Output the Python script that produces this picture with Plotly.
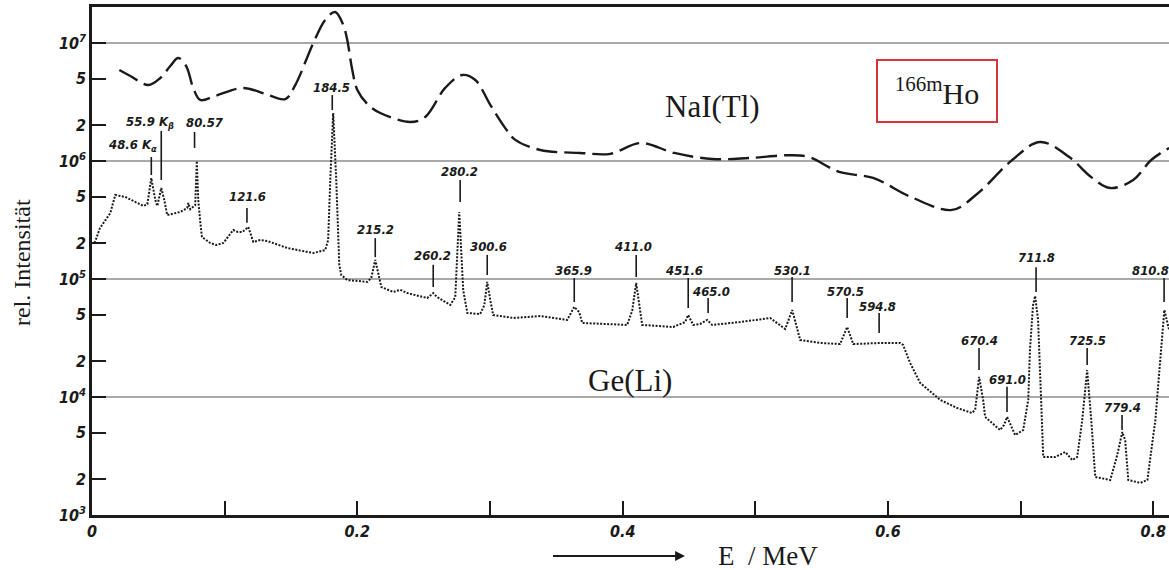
import numpy as np
import plotly.graph_objects as go

# ---------------- data ----------------
# Ge(Li) spectrum: energy (MeV) and relative intensity
ge_E = [0.002, 0.006, 0.0138, 0.0175, 0.025, 0.0387, 0.0417, 0.0447, 0.0477, 0.0492,
        0.0522, 0.0545, 0.0567, 0.0665, 0.0718, 0.0726, 0.0741, 0.0778, 0.079, 0.0801,
        0.0816, 0.0829, 0.0891, 0.0937, 0.099, 0.1065, 0.110, 0.1133, 0.1178, 0.1216,
        0.1268, 0.1321, 0.1472, 0.1668, 0.1758, 0.178, 0.1796, 0.1818, 0.1841, 0.1864,
        0.1879, 0.1924, 0.2075, 0.2105, 0.2135, 0.2166, 0.2181, 0.2271, 0.2323, 0.2376,
        0.2527, 0.2572, 0.2602, 0.27, 0.2738, 0.2768, 0.2798, 0.2829, 0.2926, 0.2957,
        0.2979, 0.3002, 0.3024, 0.3175, 0.3378, 0.3582, 0.3612, 0.3635, 0.3672, 0.3695,
        0.4034, 0.4072, 0.4102, 0.4132, 0.4147, 0.4381, 0.4471, 0.4494, 0.4532, 0.4585,
        0.4637, 0.4675, 0.4886, 0.5112, 0.5225, 0.5278, 0.5338, 0.5489, 0.5639, 0.5692,
        0.5738, 0.5941, 0.6092, 0.6114, 0.6167, 0.6242, 0.6393, 0.6521, 0.6634, 0.6657,
        0.6687, 0.6717, 0.6732, 0.6845, 0.6875, 0.6898, 0.6936, 0.6958, 0.7019, 0.7057,
        0.7070, 0.7093, 0.7109, 0.7131, 0.7154, 0.717, 0.7261, 0.7336, 0.7389, 0.7426,
        0.7464, 0.7501, 0.7532, 0.7562, 0.7675, 0.7728, 0.7766, 0.7788, 0.7811, 0.7902,
        0.7955, 0.8015, 0.8083, 0.8119]
ge_I = [2.02e5, 2.70e5, 3.62e5, 5.15e5, 4.96e5, 4.16e5, 4.3e5, 7.18e5, 4.67e5, 4.16e5,
        5.9e5, 4.67e5, 3.48e5, 3.7e5, 4.0e5, 4.4e5, 3.9e5, 4.24e5, 1.0e6, 4.67e5,
        3.04e5, 2.27e5, 2.02e5, 1.94e5, 2.02e5, 2.6e5, 2.5e5, 2.5e5, 2.76e5, 2.06e5,
        2.14e5, 2.1e5, 1.83e5, 1.66e5, 1.76e5, 2.14e5, 6.9e5, 2.55e6, 6.9e5, 1.32e5,
        1.08e5, 9.8e4, 9.45e4, 1.02e5, 1.45e5, 9.8e4, 8.55e4, 7.76e4, 8.1e4, 7.6e4,
        6.9e4, 7.6e4, 7.03e4, 6.03e4, 7.0e4, 3.7e5, 8.07e4, 5.15e4, 5.05e4, 6.0e4,
        9.45e4, 6.64e4, 4.95e4, 4.67e4, 4.85e4, 4.5e4, 5.25e4, 5.8e4, 5.25e4, 4.24e4,
        4.08e4, 5.4e4, 9.25e4, 5.4e4, 4.08e4, 3.92e4, 4.32e4, 4.95e4, 4.08e4, 4.16e4,
        4.5e4, 4.08e4, 4.32e4, 4.67e4, 3.77e4, 5.46e4, 3.04e4, 2.87e4, 2.81e4, 3.92e4,
        2.81e4, 2.87e4, 2.87e4, 2.76e4, 1.94e4, 1.32e4, 9.45e3, 8.07e3, 7.32e3, 7.8e3,
        1.48e4, 9.45e3, 6.78e3, 5.25e3, 5.8e3, 6.78e3, 5.4e3, 4.76e3, 5.25e3, 9.45e3,
        2.5e4, 6.0e4, 7.18e4, 4.5e4, 9.45e3, 3.1e3, 3.1e3, 3.42e3, 2.92e3, 3.1e3,
        6.38e3, 1.69e4, 6.38e3, 2.1e3, 1.98e3, 3.22e3, 5.05e3, 4.3e3, 1.98e3, 1.87e3,
        1.98e3, 6.38e3, 5.46e4, 3.7e4]

# NaI(Tl) spectrum
nai_E = [0.0206, 0.0289, 0.0424, 0.0515, 0.059, 0.065, 0.071, 0.0763, 0.0816, 0.0929,
         0.114, 0.1306, 0.1457, 0.1532, 0.1668, 0.1758, 0.1833, 0.1894, 0.1924, 0.1962,
         0.2, 0.2082, 0.2173, 0.2399, 0.2512, 0.2662, 0.2791, 0.2889, 0.3002, 0.3115,
         0.3191, 0.3379, 0.3681, 0.3907, 0.4133, 0.4389, 0.4675, 0.4954, 0.5263, 0.5406,
         0.5632, 0.5888, 0.6174, 0.6483, 0.668, 0.6936, 0.7147, 0.7366, 0.7532, 0.7675,
         0.7848, 0.7984, 0.8119]
nai_I = [5.9e6, 5.25e6, 4.4e6, 5.05e6, 6.38e6, 7.46e6, 6.38e6, 4.16e6, 3.29e6, 3.56e6,
         4.16e6, 3.7e6, 3.35e6, 4.4e6, 1.0e7, 1.57e7, 1.83e7, 1.42e7, 1.06e7, 5.9e6,
         4.0e6, 2.99e6, 2.55e6, 2.14e6, 2.36e6, 4.16e6, 5.36e6, 4.86e6, 2.99e6, 1.9e6,
         1.51e6, 1.24e6, 1.17e6, 1.15e6, 1.42e6, 1.17e6, 1.04e6, 1.06e6, 1.12e6, 1.08e6,
         8.07e5, 7.18e5, 4.95e5, 3.85e5, 5.36e5, 1.02e6, 1.45e6, 1.08e6, 7.3e5, 5.9e5,
         6.9e5, 1.02e6, 1.29e6]

# peak labels (keV), marker line (E, bottom, top) and label centre (E, I)
peak_text = ["48.6 K<sub>α</sub>", "55.9 K<sub>β</sub>", "80.57", "121.6", "184.5",
             "215.2", "260.2", "280.2", "300.6", "365.9", "411.0", "451.6", "465.0",
             "530.1", "570.5", "594.8", "670.4", "691.0", "711.8", "725.5", "779.4",
             "810.8"]
peak_E = [0.0447, 0.0522, 0.0773, 0.1168, 0.1811, 0.2135, 0.2572, 0.2775, 0.2979,
          0.3635, 0.4102, 0.4494, 0.4644, 0.5277, 0.5692, 0.5933, 0.6686, 0.6897,
          0.7116, 0.7501, 0.7764, 0.8081]
peak_lo = [7.6e5, 6.9e5, 1.29e6, 2.99e5, 2.7e6, 1.53e5, 8.55e4, 4.5e5, 1.08e5,
           6.38e4, 1.04e5, 5.68e4, 5.15e4, 6.38e4, 4.67e4, 3.48e4, 1.69e4, 7.46e3,
           7.76e4, 1.87e4, 5.25e3, 6.38e4]
peak_hi = [1.08e6, 1.8e6, 1.76e6, 4.0e5, 3.62e6, 2.22e5, 1.32e5, 6.9e5, 1.6e5,
           1.02e5, 1.6e5, 1.02e5, 6.9e4, 1.04e5, 6.9e4, 5.15e4, 2.6e4, 1.22e4,
           1.26e5, 2.6e4, 7.03e3, 1.02e5]
text_E = [0.0312, 0.0439, 0.0854, 0.117, 0.1803, 0.2135, 0.2564, 0.2768, 0.2986,
          0.3627, 0.4079, 0.4463, 0.4667, 0.5277, 0.5677, 0.5917, 0.6686, 0.6897,
          0.7116, 0.7501, 0.7764, 0.7975]
text_I = [1.34e6, 2.14e6, 2.14e6, 4.96e5, 4.16e6, 2.65e5, 1.57e5, 8.2e5, 1.9e5,
          1.19e5, 1.9e5, 1.19e5, 7.9e4, 1.19e5, 7.9e4, 5.9e4, 3.04e4, 1.42e4,
          1.53e5, 2.99e4, 8.2e3, 1.17e5]

x_tick_vals = [0, 0.1, 0.2, 0.3, 0.4, 0.5, 0.6, 0.7, 0.8]
x_tick_text = ["0", " ", "0.2", " ", "0.4", " ", "0.6", " ", "0.8"]
y_tick_vals = [1e3, 2e3, 5e3, 1e4, 2e4, 5e4, 1e5, 2e5, 5e5, 1e6, 2e6, 5e6, 1e7]
y_tick_text = ["10<sup>3</sup>", "2", "5", "10<sup>4</sup>", "2", "5",
               "10<sup>5</sup>", "2", "5", "10<sup>6</sup>", "2", "5", "10<sup>7</sup>"]
grid_vals = [1e4, 1e5, 1e6, 1e7]

# ---------------- figure ----------------
LBL_FONT = "Liberation Sans Narrow, DejaVu Sans Condensed, Arial Narrow, sans-serif"
SERIF = "Liberation Serif, Times New Roman, serif"
INK = "#1a1a1a"

fig = go.Figure()

fig.add_trace(go.Scatter(x=nai_E, y=nai_I, mode="lines", line_shape="spline",
                         line=dict(color=INK, width=2.4, dash="21px,7px"),
                         hoverinfo="skip", showlegend=False))
fig.add_trace(go.Scatter(x=ge_E, y=ge_I, mode="lines",
                         line=dict(color=INK, width=2.0, dash="2px,1.5px"),
                         hoverinfo="skip", showlegend=False))

# peak marker lines
lx, ly = [], []
for e, lo, hi in zip(peak_E, peak_lo, peak_hi):
    lx += [e, e, None]
    ly += [lo, hi, None]
fig.add_trace(go.Scatter(x=lx, y=ly, mode="lines", line=dict(color=INK, width=1.6),
                         hoverinfo="skip", showlegend=False))

annotations = []
for t, e, i in zip(peak_text, text_E, text_I):
    annotations.append(dict(x=e, y=np.log10(i), xref="x", yref="y", text=t,
                            showarrow=False, xanchor="center", yanchor="middle",
                            font=dict(family=LBL_FONT, size=13, color=INK,
                                      weight="bold", style="italic")))

def paper_text(x, y, text, **kw):
    d = dict(x=x, y=y, xref="paper", yref="paper", text=text, showarrow=False,
             xanchor="center", yanchor="middle")
    d.update(kw)
    return d

annotations += [
    paper_text(0.5757, 0.8051, "NaI(Tl)", font=dict(family=SERIF, size=31, color=INK)),
    paper_text(0.4995, 0.2657, "Ge(Li)", font=dict(family=SERIF, size=31, color=INK)),
    paper_text(0.7846, 0.8346, "<sup>166m</sup>Ho",
               font=dict(family=SERIF, size=30, color=INK),
               bordercolor="#d8343c", borderwidth=2, borderpad=2, width=114, height=56,
               bgcolor="white"),
    paper_text(-0.065, 0.498, "rel. Intensität", textangle=-90,
               font=dict(family=SERIF, size=24, color=INK)),
    paper_text(0.6277, -0.0807, "E  / MeV", font=dict(family=SERIF, size=27, color=INK)),
    dict(x=0.5506, y=-0.0807, xref="paper", yref="paper", text=" ", showarrow=True,
         ax=-135, ay=0, arrowhead=2, arrowsize=1.1, arrowwidth=1.8, arrowcolor=INK),
]

shapes = [dict(type="line", xref="paper", x0=0, x1=1, yref="y", y0=v, y1=v,
               line=dict(color="#8c8c8c", width=1.5), layer="below") for v in grid_vals]

fig.update_layout(
    width=1169, height=570,
    margin=dict(l=92, r=0, t=7, b=55, autoexpand=False),
    paper_bgcolor="white", plot_bgcolor="white",
    annotations=annotations, shapes=shapes,
    xaxis=dict(range=[0, 0.8118], showline=True, linecolor=INK, linewidth=2.5,
               mirror=True, ticks="inside", ticklen=14, tickwidth=2, tickcolor=INK,
               tickvals=x_tick_vals, ticktext=x_tick_text, showgrid=False, zeroline=False,
               automargin=False,
               tickfont=dict(family=LBL_FONT, size=16, color=INK,
                             weight="bold", style="italic")),
    yaxis=dict(type="log", range=[3, 7.305], showline=True, linecolor=INK,
               linewidth=2.5, ticks="inside", ticklen=14, tickwidth=2,
               tickcolor=INK, tickvals=y_tick_vals, ticktext=y_tick_text,
               showgrid=False, zeroline=False, automargin=False,
               tickfont=dict(family=LBL_FONT, size=16, color=INK,
                             weight="bold", style="italic")),
)

fig.write_html("out.html", config={"displayModeBar": False},
               post_script="document.body.style.margin='0';"
                           "document.body.style.overflow='hidden';")
